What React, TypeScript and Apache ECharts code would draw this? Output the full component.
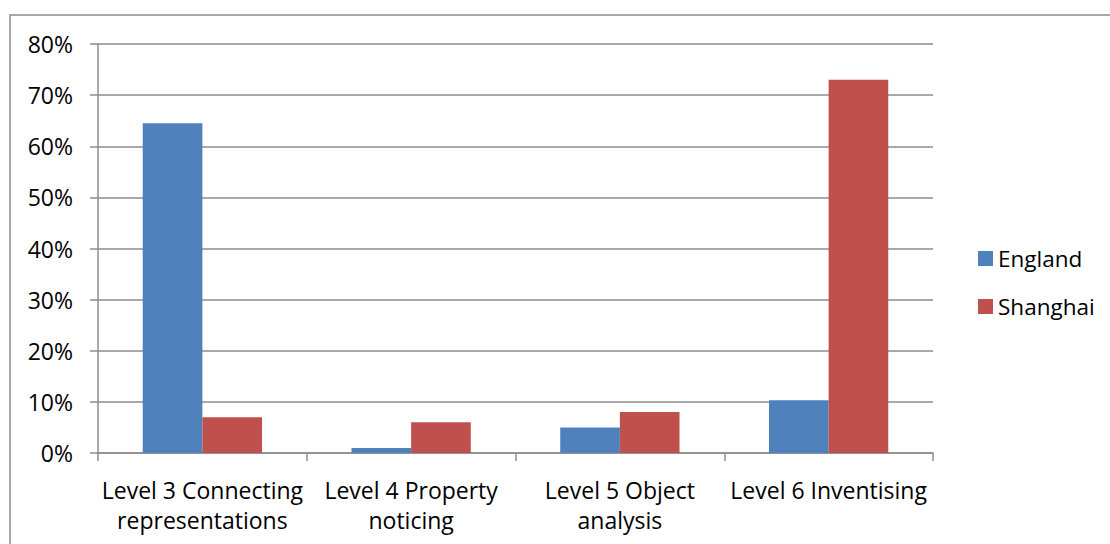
import React, { useEffect, useRef } from "react";
import * as echarts from "echarts";

const categories = [
  "Level 3 Connecting\nrepresentations",
  "Level 4 Property\nnoticing",
  "Level 5 Object\nanalysis",
  "Level 6 Inventising",
];
const england = [64.5, 1.0, 5.0, 10.3];
const shanghai = [7.0, 6.0, 8.0, 73.0];
const seriesNames = ["England", "Shanghai"];

const FONT = "'Open Sans', 'Noto Sans', sans-serif";

export default function App() {
  const ref = useRef<HTMLDivElement>(null);
  useEffect(() => {
    const chart = echarts.init(ref.current!, null, { renderer: "svg" });
    chart.setOption({
      animation: false,
      textStyle: { fontFamily: FONT },
      graphic: [
        {
          type: "rect",
          shape: { x: 10, y: 15, width: 1110, height: 540 },
          style: { fill: "none", stroke: "#8c8c8c", lineWidth: 1.5 },
          silent: true,
        },
      ],
      grid: { left: 98, right: 177, top: 44, bottom: 91, containLabel: false },
      legend: {
        orient: "vertical",
        left: 973,
        top: 242,
        itemWidth: 15,
        itemHeight: 15,
        itemGap: 25,
        icon: "rect",
        textStyle: { fontSize: 22.5, color: "#000", fontFamily: FONT },
        data: seriesNames,
      },
      xAxis: {
        type: "category",
        data: categories,
        axisLine: { lineStyle: { color: "#8c8c8c", width: 1.5 } },
        axisTick: { show: true, length: 8, interval: 0, lineStyle: { color: "#8c8c8c", width: 1.5 } },
        axisLabel: {
          interval: 0,
          color: "#000",
          fontSize: 23,
          lineHeight: 30,
          margin: 22,
          fontFamily: FONT,
        },
      },
      yAxis: {
        type: "value",
        min: 0,
        max: 80,
        interval: 10,
        axisLine: { show: true, lineStyle: { color: "#8c8c8c", width: 1.5 } },
        axisTick: { show: true, length: 8, lineStyle: { color: "#8c8c8c", width: 1.5 } },
        splitLine: { lineStyle: { color: "#8c8c8c", width: 1.5 } },
        axisLabel: {
          formatter: (v: number) => v + "%",
          color: "#000",
          fontSize: 23,
          margin: 25,
          fontFamily: FONT,
        },
      },
      series: [
        {
          name: seriesNames[0],
          type: "bar",
          data: england,
          itemStyle: { color: "#4F81BD" },
          barGap: "0%",
          barCategoryGap: "42.86%",
        },
        {
          name: seriesNames[1],
          type: "bar",
          data: shanghai,
          itemStyle: { color: "#C0504D" },
          barGap: "0%",
          barCategoryGap: "42.86%",
        },
      ],
    });
    return () => chart.dispose();
  }, []);
  return (
    <div
      ref={ref}
      style={{ position: "fixed", left: 0, top: 0, width: 1110, height: 544, background: "#fff" }}
    />
  );
}
